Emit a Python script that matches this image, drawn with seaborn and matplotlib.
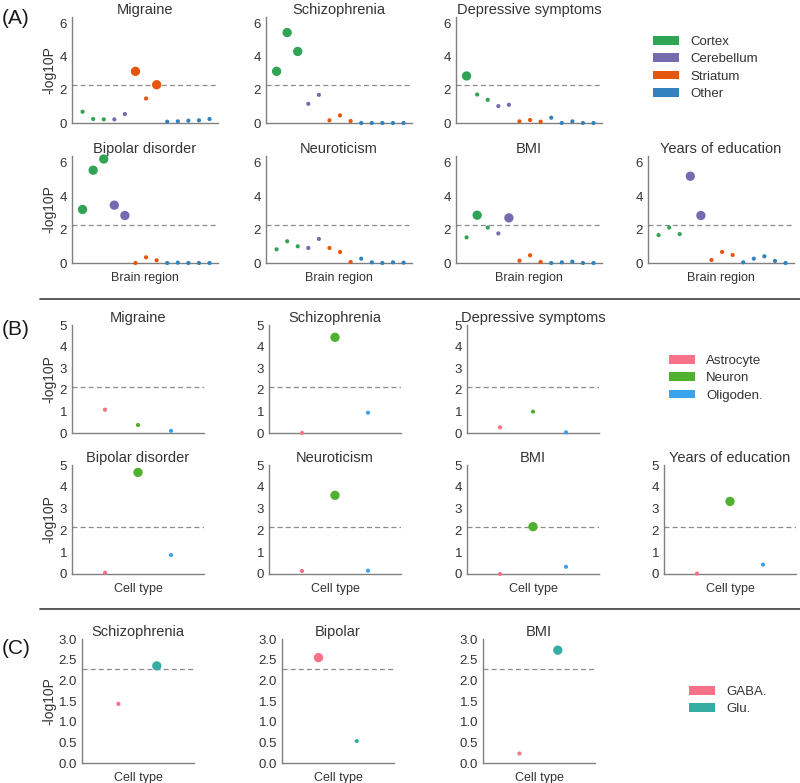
import pandas as pd
import seaborn as sns
import matplotlib.pyplot as plt
from matplotlib.patches import Patch
from matplotlib.lines import Line2D
from matplotlib.ticker import FormatStrFormatter

# --- data -------------------------------------------------------------
region_groups = ['Cortex'] * 3 + ['Cerebellum'] * 2 + ['Striatum'] * 3 + ['Other'] * 5
region_names = ['Cortex', 'Cerebellum', 'Striatum', 'Other']

a_titles = ['Migraine', 'Schizophrenia', 'Depressive symptoms',
            'Bipolar disorder', 'Neuroticism', 'BMI', 'Years of education']
a_migraine = [0.68, 0.24, 0.22, 0.22, 0.54, 3.12, 1.48, 2.31, 0.08, 0.10, 0.14, 0.16, 0.24]
a_schizophrenia = [3.12, 5.46, 4.32, 1.16, 1.70, 0.16, 0.46, 0.12, 0.00, 0.00, 0.00, 0.00, 0.00]
a_depressive = [2.84, 1.72, 1.40, 1.02, 1.10, 0.10, 0.18, 0.08, 0.32, 0.00, 0.10, 0.00, 0.00]
a_bipolar = [3.20, 5.55, 6.22, 3.46, 2.84, 0.00, 0.34, 0.16, 0.00, 0.02, 0.00, 0.00, 0.00]
a_neuroticism = [0.82, 1.30, 1.00, 0.90, 1.44, 0.90, 0.66, 0.06, 0.26, 0.04, 0.00, 0.04, 0.02]
a_bmi = [1.53, 2.86, 2.12, 1.77, 2.70, 0.14, 0.46, 0.06, 0.00, 0.04, 0.08, 0.00, 0.00]
a_years = [1.67, 2.12, 1.73, 5.19, 2.84, 0.18, 0.66, 0.48, 0.04, 0.26, 0.40, 0.12, 0.00]
a_threshold = 2.3

cell_groups = ['Astrocyte', 'Neuron', 'Oligoden.']
b_titles = a_titles
b_migraine = [1.08, 0.37, 0.10]
b_schizophrenia = [0.00, 4.43, 0.94]
b_depressive = [0.26, 0.99, 0.03]
b_bipolar = [0.06, 4.66, 0.87]
b_neuroticism = [0.14, 3.61, 0.15]
b_bmi = [0.00, 2.17, 0.33]
b_years = [0.02, 3.33, 0.43]
b_threshold = 2.15

neuron_groups = ['GABA.', 'Glu.']
c_titles = ['Schizophrenia', 'Bipolar', 'BMI']
c_schizophrenia = [1.43, 2.35]
c_bipolar = [2.55, 0.53]
c_bmi = [0.23, 2.73]
c_threshold = 2.28

# --- style ------------------------------------------------------------
sns.set_style('white')
plt.rcParams['font.family'] = ['Liberation Sans', 'DejaVu Sans']
plt.rcParams['text.color'] = '0.2'
plt.rcParams['axes.labelcolor'] = '0.2'
plt.rcParams['xtick.color'] = '0.2'
plt.rcParams['ytick.color'] = '0.2'

region_pal = dict(zip(region_names, ['#31a354', '#756bb1', '#e6550d', '#3182bd']))
cell_pal = dict(zip(cell_groups, sns.color_palette('husl', 3)))
neuron_pal = dict(zip(neuron_groups, sns.color_palette('husl', 2)))

W, H = 800, 783
fig = plt.figure(figsize=(W / 100, H / 100), dpi=100)


def px_axes(left, top, width, height):
    return fig.add_axes([left / W, 1 - (top + height) / H, width / W, height / H])


def panel(ax, title, values, groups, palette, thr, ylim, yticks, xlim,
          xlabel='', ylabel=False):
    df = pd.DataFrame({'pos': range(len(values)), 'val': values, 'group': groups})
    df['mark'] = ['big' if v > thr else 'small' for v in values]
    ax.axhline(thr, color='0.55', lw=0.9, dashes=(4, 2.5), zorder=1)
    sns.scatterplot(data=df, x='pos', y='val', hue='group', palette=palette,
                    size='mark', sizes={'big': 45, 'small': 9},
                    legend=False, linewidth=0, ax=ax, clip_on=False, zorder=3)
    ax.set_xlim(*xlim)
    ax.set_ylim(*ylim)
    ax.set_yticks(yticks)
    ax.set_xticks([])
    ax.tick_params(axis='y', length=0, pad=3.5, labelsize=9.5)
    sns.despine(ax=ax)
    for s in ['left', 'bottom']:
        ax.spines[s].set_color('0.5')
        ax.spines[s].set_linewidth(1)
    ax.set_title(title, fontsize=10.5, pad=2)
    ax.set_xlabel(xlabel, fontsize=9, labelpad=6.5)
    if ylabel:
        ax.set_ylabel('-log10P', fontsize=10)
        bb = ax.get_position()
        ax.yaxis.set_label_coords((56 / W - bb.x0) / bb.width, 0.5)
    else:
        ax.set_ylabel('')


# --- panel A ----------------------------------------------------------
a_vals = [a_migraine, a_schizophrenia, a_depressive,
          a_bipolar, a_neuroticism, a_bmi, a_years]
a_slots = [(72, 17, 106), (266, 17, 106), (456, 17, 106),
           (72, 156, 107), (266, 156, 107), (456, 156, 107), (648, 156, 107)]
for i, (title, vals, (x0, y0, h)) in enumerate(zip(a_titles, a_vals, a_slots)):
    ax = px_axes(x0, y0, 146, h)
    panel(ax, title, vals, region_groups, region_pal, a_threshold,
          (0, 6.4), [0, 2, 4, 6], (-1, 12.8),
          xlabel='Brain region' if i >= 3 else '', ylabel=(x0 == 72))

# --- panel B ----------------------------------------------------------
b_vals = [b_migraine, b_schizophrenia, b_depressive,
          b_bipolar, b_neuroticism, b_bmi, b_years]
b_slots = [(72, 325, 108), (269, 325, 108), (467, 325, 108),
           (72, 465, 109), (269, 465, 109), (467, 465, 109), (664, 465, 109)]
for i, (title, vals, (x0, y0, h)) in enumerate(zip(b_titles, b_vals, b_slots)):
    ax = px_axes(x0, y0, 132, h)
    panel(ax, title, vals, cell_groups, cell_pal, b_threshold,
          (0, 5), [0, 1, 2, 3, 4, 5], (-1, 3),
          xlabel='Cell type' if i >= 3 else '', ylabel=(x0 == 72))

# --- panel C ----------------------------------------------------------
c_vals = [c_schizophrenia, c_bipolar, c_bmi]
for title, vals, x0 in zip(c_titles, c_vals, [82, 282, 483]):
    ax = px_axes(x0, 639, 112, 124)
    panel(ax, title, vals, neuron_groups, neuron_pal, c_threshold,
          (0, 3), [0, 0.5, 1, 1.5, 2, 2.5, 3], (-0.95, 1.97),
          xlabel='Cell type', ylabel=(x0 == 82))
    ax.yaxis.set_major_formatter(FormatStrFormatter('%.1f'))

# --- legends, labels, separators --------------------------------------
for names, pal, (lx, ly) in [(region_names, region_pal, (653, 36)),
                             (cell_groups, cell_pal, (669, 355)),
                             (neuron_groups, neuron_pal, (689, 686))]:
    handles = [Patch(facecolor=pal[n], edgecolor='none', label=n) for n in names]
    fig.legend(handles=handles, loc='upper left', bbox_to_anchor=(lx / W, 1 - ly / H),
               frameon=False, fontsize=9.5, handlelength=2.0, handleheight=0.65,
               handletextpad=0.8, labelspacing=0.4, borderpad=0, borderaxespad=0)

for lab, y in [('(A)', 18), ('(B)', 329), ('(C)', 649)]:
    fig.text(2 / W, 1 - y / H, lab, fontsize=15, ha='left', va='center', color='0.1')

for y in [299, 609]:
    fig.add_artist(Line2D([40 / W, 1], [1 - y / H] * 2, color='0.3', lw=1.3))

fig.savefig('out.png', dpi=100)
